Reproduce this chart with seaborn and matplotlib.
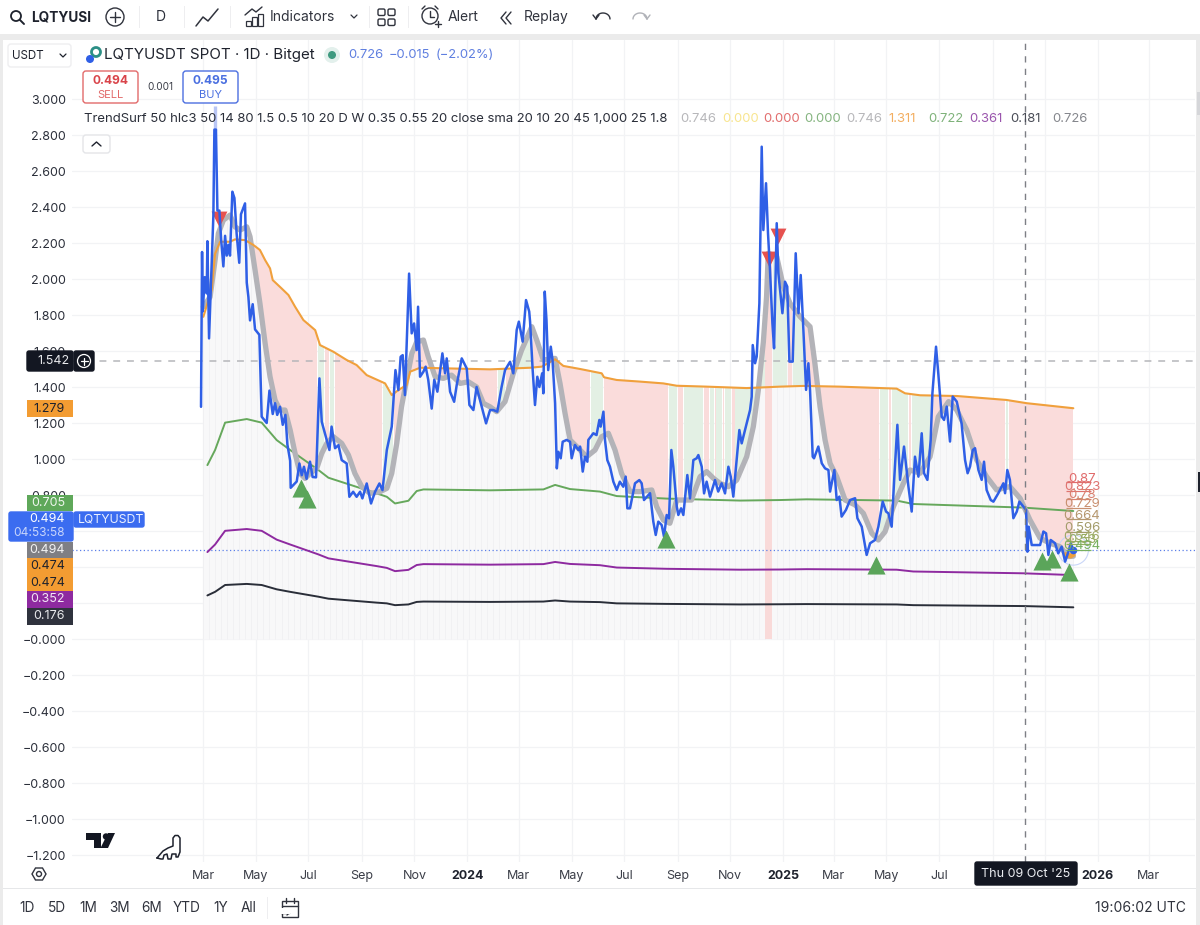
import matplotlib
matplotlib.use("Agg")
import matplotlib.pyplot as plt
from matplotlib.patches import FancyBboxPatch, Rectangle, Circle, Polygon
import numpy as np
import pandas as pd
import seaborn as sns

# ---------- values: (days since 1 Mar 2023, price) ----------
close_points = [(-2.3,1.29),(-1.1,2.15),(-0.3,1.82),(2,2.01),(4.3,1.92),(5.1,2.21),(7,1.67),(10.5,2.14),(12,2.35),(13.2,2.83),(15,2.83),
 (16.7,2.38),(19,2.38),(21,2.22),(23.6,2.07),(25.6,2.24),(27.5,2.13),(29.4,2.19),(31.3,2.13),(34,2.485),(36.4,2.45),(39,2.25),(42,2.09),(44,2.36),(48.7,2.42),
 (50.7,1.98),(52.6,1.90),(54.5,1.77),(57.6,1.86),(60.3,1.72),(65.3,1.69),(68,1.235),(73.8,1.20),(77,1.38),(80.8,1.25),(83.5,1.31),(86,1.245),(89.3,1.29),(92.4,1.19),(95.5,1.245),
 (97.8,1.08),(101,0.99),(101.6,0.84),(108.6,0.875),(111.7,0.975),(114.4,0.91),(117,0.957),(120,0.89),(124,0.985),(127,0.90),(131,0.898),(134.9,1.448),(137.6,1.207),
 (143.4,1.105),(146.5,1.05),(149,1.18),(153,1.06),(157,1.077),(160.7,0.994),(166.5,0.975),(169.6,0.79),(174,0.818),(178,0.79),(182,0.818),(184.7,0.781),(189.7,0.864),
 (194.7,0.753),(199.4,0.818),(204.4,0.864),(208,0.827),(213,1.05),(218.7,1.18),(223,1.494),(226.4,1.383),(229,1.568),(231.4,1.577),(234,1.355),(238.8,2.03),(241.8,1.698),
 (244.6,1.753),(247.6,1.605),(249.2,1.846),(251.5,1.457),(255.4,1.485),(258,1.513),(261,1.44),(265,1.28),(268,1.44),(271.6,1.374),(277.4,1.587),(280.5,1.476),(282.4,1.559),
 (286.3,1.374),(291,1.318),(294,1.411),(299.8,1.559),(305.6,1.503),(308.7,1.30),(313.3,1.272),(317,1.40),(323,1.29),(328,1.198),(332.6,1.272),(336.4,1.272),
 (341,1.263),(346,1.40),(350,1.494),(355.8,1.54),(359.6,1.476),(363.5,1.717),(366,1.763),(370.4,1.652),(374.3,1.883),(378,1.819),(379,1.763),(382,1.494),(384.7,1.30),
 (387.4,1.457),(389.8,1.40),(393,1.476),(394.4,1.365),(396,1.93),(398,1.772),(400,1.494),(403,1.624),(405,1.55),(408,1.31),(410,0.948),(411.8,1.04),(414.5,1.004),(416.8,1.096),
 (421.4,1.106),(425.3,1.096),(427.2,1.004),(431,1.078),(435,1.05),(437,1.069),(440,0.93),(442.7,1.013),(445.4,0.985),(446.5,1.106),(452.3,1.143),(456,1.133),(459.3,1.217),
 (460.8,1.18),(464,1.263),(465.8,1.106),(468.5,0.994),(471.6,0.957),(475.5,0.874),(479.4,0.828),(483,0.874),(487,0.846),(489.8,0.902),(491.7,0.726),(494.8,0.726),(500.6,0.865),
 (505.6,0.883),(508.3,0.865),(511,0.772),(518,0.81),(521.8,0.652),(524.6,0.578),(527.6,0.652),(531.5,0.633),(534.2,0.569),(537.3,0.689),(540,0.67),(542.7,1.05),(545,0.957),
 (549,0.735),(550.8,0.689),(554,0.726),(556.6,0.689),(561.2,0.911),(564.3,0.781),(568.2,0.994),(572,1.004),(574,1.022),(577.9,0.957),(580.6,0.809),(583.6,0.874),(587.5,0.791),
 (593.3,0.883),(597,0.819),(601,0.865),(604.9,0.809),(608.8,0.957),(611.5,0.902),(614.5,0.791),(617.6,0.957),(621.5,1.161),(624.2,1.087),(628,1.161),(630,1.198),(633.9,1.272),
 (635.8,1.346),(637,1.633),(639.7,1.532),(641.6,1.569),(644.7,1.865),(647.4,2.735),(649.3,2.272),(652.4,2.532),(654.7,2.254),(657,2.05),(659.8,1.754),(661.7,1.615),(664.8,2.31),
 (666.7,2.032),(671.4,1.81),(674.4,1.985),(677,1.958),(679.5,1.541),(683.3,1.541),(686.8,2.143),(690,1.81),(692.6,2.022),(695.7,1.717),(698.8,1.384),(701.5,1.532),(703.4,1.384),
 (706.5,1.013),(708,1.004),(713,1.069),(717,0.976),(720.8,0.948),(724.7,0.939),(726.6,0.819),(731.6,0.939),(734.3,0.772),(737.4,0.791),(740,0.68),(745,0.717),(749.8,0.772),
 (755.6,0.782),(758.3,0.671),(763.3,0.624),(769,0.467),(773,0.532),(778.7,0.55),(782.6,0.624),(787.6,0.763),(791.5,0.708),(794.2,0.698),(798,0.624),(801.1,0.902),(804.6,1.19),
 (807.7,0.884),(812.3,1.069),(817.4,0.847),(821.2,0.708),(825,1.013),(829,0.902),(832.8,1.143),(835.5,0.921),(839.4,0.884),(843.2,1.106),(845.2,1.365),(849.4,1.624),(852,1.476),
 (856,1.235),(858.7,1.217),(861.8,1.291),(865.6,1.097),(868.7,1.347),(873.4,1.319),(879,1.198),(883,0.995),(886,0.921),(888.8,0.958),(892,1.05),(894.6,1.06),(898.5,0.939),
 (902.3,0.884),(905,0.985),(908,0.828),(912.8,0.772),(915.9,0.763),(921.6,0.81),(927.4,0.865),(929.4,0.81),(932,0.939),(935,0.884),(939,0.671),(943,0.708),(946,0.763),
 (950.6,0.735),(953.7,0.717),(955.3,0.485),(956.8,0.624),(960.3,0.522),(964,0.522),(970,0.522),(973.8,0.597),(976.9,0.587),(979.6,0.467),(982.3,0.55),(987.3,0.532),(991,0.476),
 (995,0.513),(999,0.43),(1002.8,0.485),(1005.5,0.532),(1008.5,0.494)]

sma_points = [(0.4,1.846),(8.2,1.90),(14,2.105),(17.8,2.253),(23.6,2.327),(31.3,2.355),(37,2.29),(43,2.272),(50.7,2.29),(54.5,2.235),(60.3,2.05),(66,1.864),(72,1.642),(77.7,1.457),
 (83.5,1.327),(89.3,1.272),(95,1.272),(101,1.161),(106.7,1.031),(112.5,0.92),(118.3,0.892),(124,0.92),(131.8,0.948),(137.6,1.031),(143.4,1.087),(151,1.124),(160.7,1.087),(168.5,1.022),
 (176,0.92),(184,0.846),(193.6,0.809),(205,0.818),(213,0.837),(218.7,0.92),(224.5,1.087),(230,1.29),(236,1.44),(242,1.587),(247.6,1.65),(255.4,1.661),(261,1.568),(269,1.457),
 (278.5,1.448),(288,1.466),(298,1.42),(307.5,1.429),(317,1.40),(325,1.309),(332.6,1.29),(340.3,1.263),(350,1.319),(359.6,1.476),(369.3,1.606),(381,1.735),(386.7,1.661),(394.4,1.55),
 (408,1.559),(413.7,1.42),(419.5,1.254),(425.3,1.106),(433,1.069),(444.6,1.013),(454.3,1.05),(462,1.124),(469.7,1.143),(477.4,1.05),(485,0.92),(494.8,0.819),(506.4,0.819),(520,0.828),
 (525.7,0.735),(533.4,0.661),(541,0.643),(549,0.772),(556.6,0.772),(566,0.772),(576,0.902),(583.6,0.93),(591.4,0.893),(599,0.865),(608.8,0.846),(618.4,0.883),(630,1.013),(637.7,1.18),
 (643.5,1.383),(649.3,1.65),(653,1.9),(655,2.143),(664.8,2.124),(672.5,1.958),(680.2,1.865),(691.8,1.791),(703.4,1.735),(709,1.532),(715,1.291),(720.8,1.106),(726.6,0.976),(734.3,0.902),
 (744,0.772),(755.6,0.745),(765.2,0.698),(775,0.587),(782.6,0.55),(790.3,0.596),(800,0.735),(811.6,0.865),(819.3,0.939),(831,0.921),(842.5,1.013),(852,1.235),(864,1.319),(873.4,1.272),
 (885,1.161),(896.5,0.995),(908,0.902),(919.7,0.828),(935,0.847),(946.8,0.782),(958.3,0.661),(970,0.56),(981.5,0.532),(993,0.513),(1002.8,0.458),(1008.5,0.46)]

upper_points = [(0.4,1.79),(10,1.94),(14,2.14),(19.8,2.207),(31.3,2.207),(37,2.22),(48.7,2.216),(58.4,2.189),(66,2.161),(72,2.105),(77.7,2.059),(80.8,1.994),(91,1.948),(99,1.911),(106.7,1.846),
 (116.3,1.772),(130,1.716),(135.6,1.633),(151,1.596),(166.5,1.55),(178,1.522),(189.7,1.466),(211,1.42),(218.7,1.355),(226.4,1.383),(236,1.411),(240,1.485),(251.5,1.507),(332.6,1.498),
 (379,1.507),(392.5,1.513),(408,1.554),(417.6,1.517),(437,1.50),(462,1.476),(464.7,1.454),(479.4,1.439),(506.4,1.43),(533.4,1.42),(549,1.407),(583.6,1.402),(630,1.394),(668.6,1.402),
 (695.7,1.406),(738,1.402),(803.8,1.391),(813.5,1.365),(831,1.354),(873.4,1.35),(931,1.328),(954.5,1.31),(1008.5,1.282)]

green_points = [(5.1,0.966),(14,1.05),(25.6,1.202),(50.7,1.222),(68,1.202),(85.4,1.105),(101,1.05),(133.7,0.939),(145.3,0.896),(201.3,0.809),(213,0.79),(222.5,0.753),(238,0.768),(247.6,0.822),
 (255.4,0.831),(332.6,0.826),(394.4,0.831),(408,0.856),(425.3,0.833),(460,0.819),(479.4,0.794),(537.3,0.78),(622.3,0.769),(668.6,0.772),(699.5,0.776),(803.8,0.769),(823,0.75),(950.6,0.73),(1008.5,0.711)]

purple_points = [(5.1,0.483),(14,0.525),(25.6,0.601),(50.7,0.611),(68,0.601),(85.4,0.552),(101,0.525),(133.7,0.47),(145.3,0.448),(201.3,0.405),(213,0.395),(222.5,0.377),(238,0.384),(247.6,0.411),
 (255.4,0.416),(332.6,0.413),(394.4,0.416),(408,0.428),(425.3,0.417),(460,0.41),(479.4,0.397),(537.3,0.39),(622.3,0.385),(668.6,0.386),(699.5,0.388),(803.8,0.385),(823,0.375),(950.6,0.365),(1008.5,0.355)]

black_points = [(5.1,0.242),(14,0.262),(25.6,0.30),(50.7,0.306),(68,0.30),(85.4,0.276),(101,0.262),(133.7,0.235),(145.3,0.224),(201.3,0.202),(213,0.198),(222.5,0.188),(238,0.192),(247.6,0.206),
 (255.4,0.208),(332.6,0.206),(394.4,0.208),(408,0.214),(425.3,0.208),(460,0.205),(479.4,0.198),(537.3,0.195),(622.3,0.192),(668.6,0.193),(699.5,0.194),(803.8,0.192),(823,0.188),(950.6,0.183),(1008.5,0.176)]

buy_signals = [(113.6,0.839),(120.5,0.778),(536.5,0.556),(779.8,0.411),(972,0.433),(983.8,0.444),(1003.5,0.372)]
sell_signals = [(18.5,2.333),(655.8,2.111),(666.3,2.239)]
green_bands = [(133,140),(147,152),(208,220),(342,350),(360,381),(450,464),(540,549),(557,579),(587,592),(595,601),(605,612),(617,651),(660,677),(684,696),(784,794),(798,817),(821,843),(930,933)]
red_full_band = (651,659)
fib_levels = [0.87,0.823,0.78,0.729,0.664,0.596,0.546,0.53,0.494]
fib_labels = ["0.87","0.823","0.78","0.729","0.664","0.596","0.546","0.53","0.494"]
fib_colors = ["#e06b6b","#df7470","#d9806f","#c99070","#b5976f","#a39c6a","#9fa765","#95ad60","#78b060"]
last_orange = [(1000,0.47),(1005,0.46),(1008.5,0.47)]
y_ticks = [round(3.0-0.2*i,1) for i in range(22)]
hidden_ticks = [0.6, 0.4, 0.2]   # covered by the price tags in the picture
month_ticks = ["2023-03-01","2023-05-01","2023-07-01","2023-09-01","2023-11-01","2024-01-01","2024-03-01","2024-05-01","2024-07-01","2024-09-01","2024-11-01",
               "2025-01-01","2025-03-01","2025-05-01","2025-07-01","2025-09-01","2025-11-01","2026-01-01","2026-03-01"]
month_labels = ["Mar","May","Jul","Sep","Nov","2024","Mar","May","Jul","Sep","Nov","2025","Mar","May","Jul","","","2026","Mar"]
cursor_date = "2025-10-09"
cursor_price = 1.542
last_price = 0.494
indicator_values = ["0.746","0.000","0.000","0.000","0.746","1.311","0.722","0.361","0.181","0.726"]
indicator_colors = ["#b7b7ba","#f8e58f","#e26f6f","#86b581","#b7b7ba","#f3ae60","#7fb27a","#9a55ad","#4a4d57","#85878d"]
axis_tags = ["1.279","0.705","0.494","0.474","0.474","0.352","0.176"]

START = pd.Timestamp("2023-03-01")
def to_dates(d):
    return START + pd.to_timedelta(np.asarray(d, dtype=float), unit="D")
def frame(points):
    a = np.array(points)
    return pd.DataFrame({"date": to_dates(a[:,0]), "day": a[:,0], "value": a[:,1]})

sns.set_theme(style="white")
plt.rcParams["font.family"] = ["Inter", "DejaVu Sans"]
TXT = "#2b2f3a"
fig = plt.figure(figsize=(12, 9.25), dpi=100, facecolor="white")

# panel: left 72px .. right 1195px, top 40px .. bottom 862px
ax = fig.add_axes([72/1200, 1-862/925, (1195-72)/1200, (862-40)/925])
PX_DAY = 0.863
ax.set_xlim(to_dates([(72-203)/PX_DAY])[0], to_dates([(1195-203)/PX_DAY])[0])
ax.set_ylim((639-862)/180, (639-40)/180)
ax.set_axisbelow(True)
for s in ax.spines.values():
    s.set_visible(False)

sma = frame(sma_points); upper = frame(upper_points)
grid_days = np.arange(0, 1009)
g_dates = to_dates(grid_days)
sma_i = np.interp(grid_days, sma["day"], sma["value"])
up_i = np.interp(grid_days, upper["day"], upper["value"])

# background under the mean line and weekly stripes
ax.fill_between(g_dates, 0, sma_i, color="#f8f8f9", lw=0, zorder=1)
week_days = grid_days[::7]
ax.vlines(to_dates(week_days), 0, np.interp(week_days, grid_days, sma_i), color="#eeeef1", lw=0.5, zorder=1.1)

is_green = np.zeros_like(grid_days, dtype=bool)
for a, b in green_bands:
    is_green |= (grid_days >= a) & (grid_days <= b)
started = grid_days >= 55
lo, hi = np.minimum(sma_i, up_i), np.maximum(sma_i, up_i)
ax.fill_between(g_dates, lo, hi, where=started & ~is_green, color="#fadcdb", lw=0, zorder=1.2, step="mid")
ax.fill_between(g_dates, lo, hi, where=started & is_green, color="#e3f0e4", lw=0, zorder=1.2, step="mid")
band = (grid_days >= red_full_band[0]) & (grid_days <= red_full_band[1])
ax.fill_between(g_dates, 0, np.maximum(sma_i, up_i), where=band, color="#f9dad9", lw=0, zorder=1.25, step="mid")

# cursor and last price lines
ax.axhline(cursor_price, color="#b5b6ba", lw=1.1, ls=(0, (4.5, 4.5)), zorder=1.5)
ax.axhline(last_price, color="#5b7fe8", lw=0.9, ls=(0, (1, 2)), zorder=1.5)
ax.axvline(pd.Timestamp(cursor_date), color="#7d7f85", lw=1, ls=(0, (4.5, 4.5)), zorder=6)

def line(points, color, lw, z):
    sns.lineplot(data=frame(points), x="date", y="value", estimator=None, sort=False, color=color,
                 lw=lw, ax=ax, zorder=z, legend=False)

line(black_points, "#2a2e39", 1.4, 3)
line(purple_points, "#8e2aa0", 1.4, 3)
line(green_points, "#66a85c", 1.4, 3)
line(sma_points, "#b3b3b8", 3.8, 3.2)
line(upper_points, "#f0a03c", 1.5, 3.4)
ax.vlines(to_dates([14]), 2.83, 2.96, color="#b9c6f5", lw=2.4, zorder=3.5)
line(last_orange, "#f0a03c", 3.5, 3.6)
line(close_points, "#2f5fe6", 1.8, 4)

buy = frame(buy_signals); sell = frame(sell_signals)
sns.scatterplot(data=buy, x="date", y="value", marker="^", s=170, color="#5ba55a", linewidth=0, ax=ax, zorder=5, legend=False)
sns.scatterplot(data=sell, x="date", y="value", marker="v", s=130, color="#e5514f", linewidth=0, ax=ax, zorder=3.8, legend=False)
ax.scatter(to_dates([1008.5]), [last_price], s=30, color="#2f5fe6", linewidth=0, zorder=5)
ax.scatter(to_dates([1008.5]), [last_price], s=470, facecolor="none", edgecolor="#c9d6f8", linewidth=0.8, zorder=2)

# fib labels
for lv, lb, c in zip(fib_levels, fib_labels, fib_colors):
    ax.hlines(lv, to_dates([1000])[0], to_dates([1029])[0], color=c, lw=0.9, zorder=5.5)
    ax.text(to_dates([1018.5])[0], lv-0.012, lb, color=c, fontsize=9.5, ha="center", va="bottom", zorder=5.5)

# axes
ax.set_xlabel(""); ax.set_ylabel("")
ax.set_yticks(y_ticks)
ax.set_yticklabels(["" if v in hidden_ticks else ("\u2212" if v <= 0 else "") + f"{abs(v):.3f}" for v in y_ticks], fontsize=9, color=TXT)
ax.set_xticks(pd.to_datetime(month_ticks))
ax.set_xticklabels(month_labels, fontsize=9, color="#3a3d47")
for t, lab in zip(ax.get_xticklabels(), month_labels):
    if lab.isdigit():
        t.set_fontweight("bold"); t.set_color("#1e222d")
ax.tick_params(axis="both", length=0)
ax.tick_params(axis="x", pad=6)
ax.tick_params(axis="y", pad=4.5)
ax.grid(True, color="#f2f3f5", lw=0.9)

# ---------- interface chrome in picture pixels ----------
ui = fig.add_axes([0, 0, 1, 1], facecolor="none")
ui.set_xlim(0, 1200); ui.set_ylim(925, 0); ui.axis("off")

def T(x, y, s, size=9, color=TXT, ha="left", va="center", **k):
    ui.text(x, y+1, s, fontsize=size, color=color, ha=ha, va=va, **k)
def R(x0, y0, x1, y1, fc, ec="none", lw=0, z=1):
    ui.add_patch(Rectangle((x0, y0), x1-x0, y1-y0, fc=fc, ec=ec, lw=lw, zorder=z))
def RR(x0, y0, x1, y1, fc, ec, lw=1, r=3, z=2):
    ui.add_patch(FancyBboxPatch((x0+r, y0+r), x1-x0-2*r, y1-y0-2*r, boxstyle=f"round,pad={r}", fc=fc, ec=ec, lw=lw, zorder=z))
def L(xs, ys, color="#30333d", lw=1.0, z=3):
    ui.plot(xs, ys, color=color, lw=lw, zorder=z, solid_capstyle="round")

# frame
R(0, 34, 1200, 39.5, "#ebebeb"); R(0, 34, 3, 925, "#ebebeb"); R(1196, 34, 1200, 925, "#ebebeb")
R(1197.5, 472, 1200, 492, "#1e222d"); R(1197, 92, 1200, 115, "#d5d6d9")
R(3, 887.5, 1196, 888.5, "#e6e7e9")

# toolbar
ui.add_patch(Circle((16, 16), 5, fc="none", ec="#1e222d", lw=1.3, zorder=3)); L([20, 24], [20, 24], "#1e222d", 1.4)
T(31, 16, "LQTYUSI", 9.8, "#1e222d", fontweight="bold")
ui.add_patch(Circle((115, 17), 9, fc="none", ec="#30333d", lw=1, zorder=3)); L([110, 120], [17, 17]); L([115, 115], [12, 22])
T(161, 16, "D", 10, ha="center")
L([196, 203, 208, 218], [26, 17, 21, 9], "#30333d", 1.1)
for s in [139, 184, 230, 369, 408]:
    R(s, 6, s+1, 28, "#eeeef0")
for bx, h in [(246, 5), (252, 9), (258, 12)]:
    ui.add_patch(Rectangle((bx, 26-h), 5, h, fc="none", ec="#30333d", lw=0.9, zorder=3))
L([245, 252, 256, 262], [15, 9, 12, 7], "#30333d", 1)
T(270, 16, "Indicators", 10, "#30333d")
L([351, 354, 357], [15, 18, 15], "#30333d", 0.9)
for gx, gy in [(378, 9), (388, 9), (378, 19), (388, 19)]:
    ui.add_patch(FancyBboxPatch((gx+1.5, gy+1.5), 4, 3.5, boxstyle="round,pad=1.5", fc="none", ec="#30333d", lw=1, zorder=3))
ui.add_patch(Circle((430, 16), 8, fc="none", ec="#30333d", lw=1, zorder=3)); L([430, 430, 434], [11, 17, 17])
L([422, 425], [9, 6]); L([438, 435], [9, 6]); L([438, 438], [21, 27]); L([435, 441], [24, 24])
T(448, 16, "Alert", 10, "#30333d")
L([506, 501, 506], [12, 18, 24]); L([511, 506, 511], [12, 18, 24])
T(524, 16, "Replay", 10, "#30333d")
arc_t = np.linspace(np.pi, 2*np.pi, 20)
L(603+7*np.cos(arc_t), 19+6*np.sin(arc_t), "#30333d", 1); L([596, 599], [19, 15]); L([596, 593], [19, 15])
L(640+7*np.cos(arc_t), 19+6*np.sin(arc_t), "#b0b2b8", 1); L([647, 650], [19, 15], "#b0b2b8"); L([647, 644], [19, 15], "#b0b2b8")

# symbol bar
RR(8, 44, 71, 67, "white", "#eeeef0")
T(12, 55, "USDT", 8.3, "#1e222d")
L([60, 63, 66], [54, 57, 54], "#1e222d", 0.9)
ui.add_patch(Circle((96, 52), 4.5, fc="none", ec="#2c8f86", lw=2, zorder=3))
ui.add_patch(Circle((90, 59), 4, fc="#2f5fe6", ec="none", zorder=3))
T(104, 54.5, "LQTYUSDT SPOT \u00b7 1D \u00b7 Bitget", 10.9, "#1e222d")
ui.add_patch(Circle((332, 55), 8, fc="#e3f0ec", ec="none", zorder=3))
ui.add_patch(Circle((332, 55), 4, fc="#3f9a80", ec="none", zorder=3))
T(348, 54.5, "0.726", 9.3, "#5f7fe0")
T(389, 54.5, "\u22120.015", 9.3, "#5f7fe0")
T(436, 54.5, "(\u22122.02%)", 9.3, "#5f7fe0")

# trade buttons
RR(83, 71, 138, 103, "white", "#e26a6a", 1.0)
T(110.5, 80, "0.494", 8.6, "#d9444a", ha="center", fontweight="bold")
T(110.5, 93.5, "SELL", 8, "#e26a6a", ha="center")
T(160, 86, "0.001", 7.2, "#3a3d47", ha="center")
RR(183, 71, 238, 103, "white", "#4c6fe0", 1.0)
T(210.5, 80, "0.495", 8.6, "#4a6fe0", ha="center", fontweight="bold")
T(210.5, 93.5, "BUY", 8, "#4a6fe0", ha="center")

# indicator line
T(84, 118.5, "TrendSurf 50 hlc3 50 14 80 1.5 0.5 10 20 D W 0.35 0.55 20 close sma 20 10 20 45 1,000 25 1.8", 9.45, "#2b2f3a")
for xp, v, c in zip([680, 722, 763, 804, 846, 888, 928, 969, 1010, 1052], indicator_values, indicator_colors):
    T(xp, 118.5, v, 9.45, c)
RR(83, 135, 110, 153, "white", "#e4e5e8")
L([92, 96.5, 101], [146, 142, 146], "#1e222d", 1)

# price axis tags
RR(27, 351, 73, 371, "#131722", "#131722", r=2, z=5)
T(69, 360, f"{cursor_price:.3f}", 9, "#e8e9ec", ha="right", zorder=6)
RR(74, 351, 94, 371, "#131722", "#131722", r=2, z=5)
ui.add_patch(Circle((84, 361), 6.5, fc="none", ec="white", lw=0.9, zorder=6))
L([80.5, 87.5], [361, 361], "white", 0.9, 6); L([84, 84], [357.5, 364.5], "white", 0.9, 6)
tag_specs = [(400, 417, "#f39c32", "#1e222d", axis_tags[0]),
             (495, 511, "#5fa85a", "#eef6ed", axis_tags[1]),
             (542, 558, "#7f7f84", "#f2f2f3", axis_tags[2]),
             (558, 574, "#f39c32", "#1e222d", axis_tags[3]),
             (574, 591, "#f39c32", "#1e222d", axis_tags[4]),
             (591, 608, "#8e2aa0", "#f2e6f5", axis_tags[5]),
             (608, 624.5, "#2f323d", "#e8e9ec", axis_tags[6])]
for y0, y1, fc, tc, s in tag_specs:
    R(27, y0, 73, y1, fc, z=5)
    T(65, (y0+y1)/2-1, s, 9, tc, ha="right", zorder=6)
RR(9, 512, 73, 541, "#3b6cf0", "#3b6cf0", r=2, z=6)
T(65, 518.5, f"{last_price:.3f}", 9, "white", ha="right", zorder=7)
T(65, 532, "04:53:58", 8.6, "#c7d5fb", ha="right", zorder=7)
RR(74, 512, 144, 527, "#3b6cf0", "#3b6cf0", r=2, z=6)
T(78, 518.5, "LQTYUSDT", 8.8, "#eaf0ff", zorder=7)

# cursor date label
RR(975, 862, 1077, 885, "#131722", "#131722", r=2, z=5)
T(1026, 873, "Thu 09 Oct '25", 9, "#eceef2", ha="center", zorder=6)

# tradingview logo and dino
ui.add_patch(Polygon([(86, 833), (101, 833), (101, 848), (94, 848), (94, 840), (86, 840)], fc="#131722", ec="none", zorder=3))
ui.add_patch(Circle((106, 836.5), 3.2, fc="#131722", ec="none", zorder=3))
ui.add_patch(Polygon([(108, 833), (115, 833), (108, 848), (100.5, 848)], fc="#131722", ec="none", zorder=3))
ui.plot([157, 163, 168, 173, 173, 175, 178, 180, 180, 178, 176, 176, 172, 171, 168, 167, 164, 163, 161, 157],
        [858, 851, 848, 846, 838, 835.5, 835.5, 838, 852, 857, 857, 854, 854, 859, 859, 854, 855, 859, 859, 858],
        color="#1e222d", lw=1.1, zorder=3)
ui.add_patch(Polygon([(32, 874), (35.5, 868), (42.5, 868), (46, 874), (42.5, 880), (35.5, 880)], fc="none", ec="#30333d", lw=1, zorder=3))
ui.add_patch(Circle((39, 874), 2.5, fc="none", ec="#30333d", lw=1, zorder=3))

# range bar
for xc, s in zip([27, 57, 88, 120, 152, 187, 221, 249], ["1D", "5D", "1M", "3M", "6M", "YTD", "1Y", "All"]):
    T(xc, 907, s, 9.8, "#30333d", ha="center")
R(267, 897, 268, 919, "#eeeef0")
ui.add_patch(Rectangle((282, 901), 16, 16, fc="none", ec="#30333d", lw=1, zorder=3))
R(280, 908, 290, 914, "white", z=3.5)
L([282, 298], [906, 906]); L([286, 286], [898, 903]); L([294, 294], [898, 903])
L([281, 289], [913, 913]); L([287, 289, 287], [911, 913, 915])
T(1186, 907, "19:06:02 UTC", 10, "#30333d", ha="right")

fig.savefig("out.png", dpi=100, facecolor="white")
